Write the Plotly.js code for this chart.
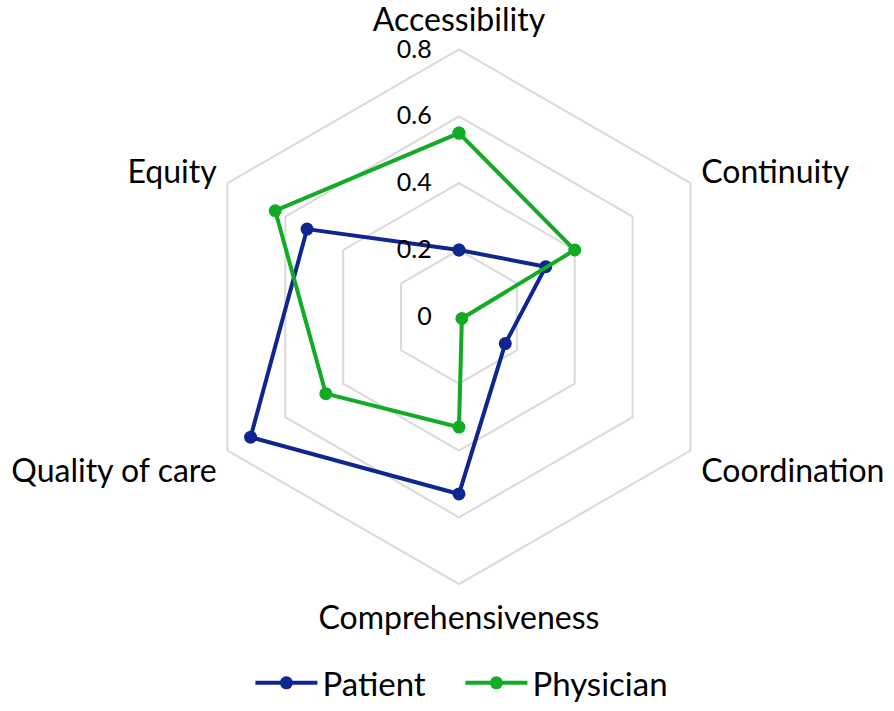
<!DOCTYPE html>
<html>
<head>
<meta charset="utf-8">
<script src="https://cdn.plot.ly/plotly-3.0.1.min.js"></script>
<style>
  html, body { margin: 0; padding: 0; background: #fff; }
  #chart { width: 894px; height: 711px; }
</style>
</head>
<body>
<div id="chart"></div>
<script>
// dimensions of primary care
const dimensions = ['Accessibility', 'Continuity', 'Coordination', 'Comprehensiveness', 'Quality of care', 'Equity'];
const patient = [0.20, 0.30, 0.16, 0.53, 0.72, 0.525];
const physician = [0.55, 0.40, 0.01, 0.33, 0.46, 0.635];
const radialTicks = [0, 0.2, 0.4, 0.6, 0.8];

const FONT = 'Lato, "Open Sans", sans-serif';
const BLUE = '#0f2690';
const GREEN = '#12ab25';

// close the loops
const closeLoop = arr => arr.concat([arr[0]]);

function series(name, values, color) {
    return {
        type: 'scatterpolar',
        name: name,
        r: closeLoop(values),
        theta: closeLoop(dimensions),
        mode: 'lines+markers',
        line: {color: color, width: 4},
        marker: {color: color, size: 13},
        cliponaxis: false
    };
}

const data = [
    series('Patient', patient, BLUE),
    series('Physician', physician, GREEN)
];

const layout = {
    width: 894,
    height: 711,
    margin: {l: 0, r: 0, t: 0, b: 0},
    paper_bgcolor: '#fff',
    font: {family: FONT, color: '#000'},
    showlegend: true,
    legend: {
        orientation: 'h',
        x: 0.515, xanchor: 'center',
        y: 0.03, yanchor: 'middle',
        itemwidth: 62,
        entrywidth: 133,
        font: {size: 33, family: FONT},
        tracegroupgap: 0
    },
    polar: {
        domain: {x: [0.2114, 0.8154], y: [0.1702, 0.9297]},
        gridshape: 'linear',
        bgcolor: 'rgba(0,0,0,0)',
        angularaxis: {
            direction: 'clockwise',
            rotation: 90,
            showgrid: false,
            showline: true,
            linecolor: '#d9d9d9',
            linewidth: 2,
            ticks: 'outside',
            ticklen: 5,
            tickcolor: 'rgba(0,0,0,0)',
            tickfont: {size: 32, family: FONT, color: '#000'}
        },
        radialaxis: {
            range: [0, 0.8],
            tickvals: radialTicks,
            ticktext: radialTicks.map(v => String(v)),
            angle: 90,
            tickangle: 90,
            side: 'counterclockwise',
            showline: false,
            ticks: 'outside',
            ticklen: 18,
            tickcolor: 'rgba(0,0,0,0)',
            gridcolor: '#d9d9d9',
            gridwidth: 2,
            tickfont: {size: 25, family: FONT, color: '#000'}
        }
    }
};

Plotly.newPlot('chart', data, layout, {displayModeBar: false, staticPlot: true});
</script>
</body>
</html>
